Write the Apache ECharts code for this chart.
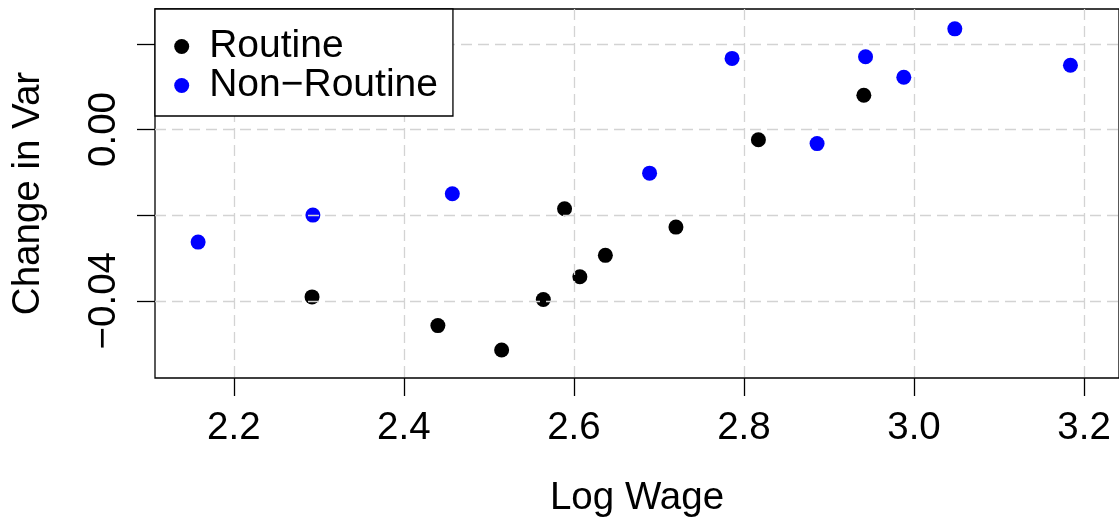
<!DOCTYPE html>
<html>
<head>
<meta charset="utf-8">
<script src="https://cdn.jsdelivr.net/npm/echarts@6/dist/echarts.min.js"></script>
<style>
  html, body { margin: 0; padding: 0; background: #fff; }
  #chart { width: 1119px; height: 523px; }
</style>
</head>
<body>
<div id="chart"></div>
<script>
// values
const routineX = [2.292, 2.440, 2.515, 2.564, 2.589, 2.607, 2.637, 2.720, 2.817, 2.941];
const routineY = [-0.0391, -0.0458, -0.0515, -0.0397, -0.0185, -0.0344, -0.0294, -0.0228, -0.0024, 0.0080];
const nonRoutineX = [2.158, 2.293, 2.457, 2.689, 2.786, 2.886, 2.943, 2.988, 3.048, 3.184];
const nonRoutineY = [-0.0263, -0.0200, -0.0150, -0.0102, 0.0166, -0.0033, 0.0170, 0.0122, 0.0235, 0.0150];
const xTicks = [2.2, 2.4, 2.6, 2.8, 3.0, 3.2];
const yTicks = [-0.04, -0.02, 0, 0.02];
const yLabels = [-0.04, 0];

const FONT = '"Liberation Sans", Arial, Helvetica, sans-serif';
const zip = (xs, ys) => xs.map((x, i) => [x, ys[i]]);
const minus = s => s.replace('-', '\u2212');

const chart = echarts.init(document.getElementById('chart'));

chart.setOption({
  animation: false,
  backgroundColor: '#fff',
  textStyle: { fontFamily: FONT },
  grid: {
    left: 155,
    top: 9,
    width: 966,
    height: 370,
    show: true,
    borderColor: '#000',
    borderWidth: 1.3,
    backgroundColor: 'transparent'
  },
  legend: {
    orient: 'vertical',
    left: 155,
    top: 9,
    icon: 'circle',
    itemWidth: 15,
    itemHeight: 15,
    itemGap: 0,
    padding: [18, 15, 11, 19.2],
    backgroundColor: '#fff',
    borderColor: '#000',
    borderWidth: 1.3,
    borderRadius: 0,
    textStyle: { fontFamily: FONT, fontSize: 39, color: '#000', lineHeight: 35, padding: [0, 0, 0, 15] },
    data: ['Routine', 'Non\u2212Routine']
  },
  xAxis: {
    type: 'value',
    min: 2.1073,
    max: 3.2411,
    z: 3,
    name: 'Log Wage',
    nameLocation: 'middle',
    nameGap: 101,
    nameTextStyle: { fontFamily: FONT, fontSize: 38.5, color: '#000' },
    axisLine: { show: false, onZero: false },
    axisTick: { show: true, length: 18, customValues: xTicks, lineStyle: { color: '#000', width: 1.3 } },
    axisLabel: {
      customValues: xTicks,
      margin: 31,
      fontFamily: FONT,
      fontSize: 38.5,
      color: '#000',
      formatter: v => v.toFixed(1)
    },
    splitLine: { show: true, lineStyle: { color: '#d3d3d3', width: 1.3, type: [11, 6] } }
  },
  yAxis: {
    type: 'value',
    min: -0.05804,
    max: 0.02814,
    z: 3,
    name: 'Change in Var',
    nameLocation: 'middle',
    nameGap: 107,
    nameTextStyle: { fontFamily: FONT, fontSize: 38.5, color: '#000' },
    axisLine: { show: false, onZero: false },
    axisTick: { show: true, length: 18, customValues: yTicks, lineStyle: { color: '#000', width: 1.3 } },
    axisLabel: {
      customValues: yLabels,
      rotate: 90,
      margin: 31,
      fontFamily: FONT,
      fontSize: 38.5,
      color: '#000',
      formatter: v => minus(v.toFixed(2))
    },
    splitLine: { show: true, lineStyle: { color: '#d3d3d3', width: 1.3, type: [11, 6] } }
  },
  series: [
    {
      name: 'Routine',
      type: 'scatter',
      symbol: 'circle',
      symbolSize: 15,
      itemStyle: { color: '#000', opacity: 1 },
      data: zip(routineX, routineY)
    },
    {
      name: 'Non\u2212Routine',
      type: 'scatter',
      symbol: 'circle',
      symbolSize: 15,
      itemStyle: { color: '#0000ff', opacity: 1 },
      data: zip(nonRoutineX, nonRoutineY)
    }
  ]
});
</script>
</body>
</html>
